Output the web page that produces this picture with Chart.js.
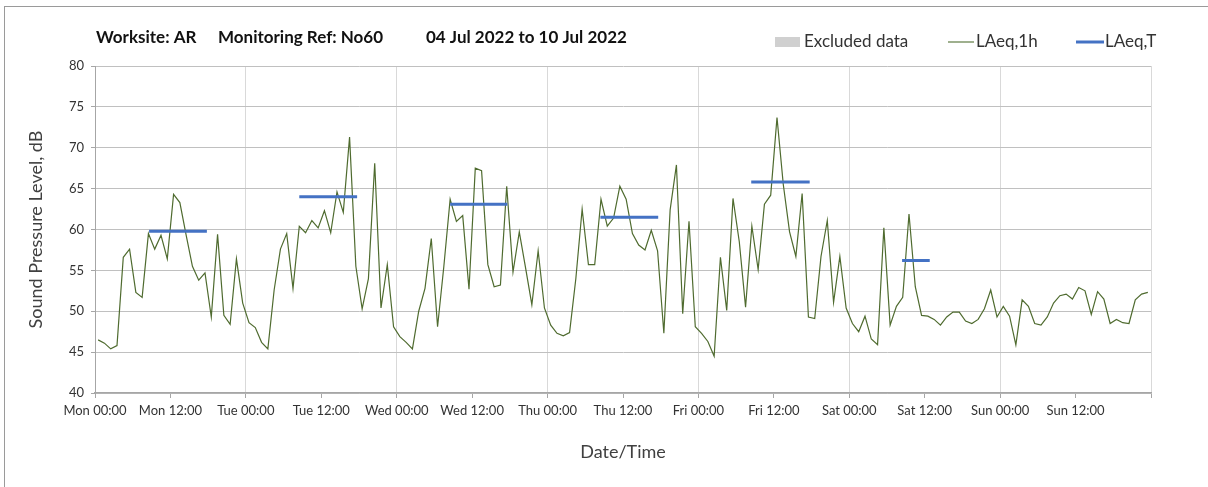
<!DOCTYPE html>
<html>
<head>
<meta charset="utf-8">
<script src="https://cdn.jsdelivr.net/npm/chart.js@4/dist/chart.umd.min.js"></script>
<style>
html,body{margin:0;padding:0;background:#fff;}
#wrap{position:relative;width:1208px;height:487px;overflow:hidden;background:#fff;}
#frame{position:absolute;left:4px;top:6px;width:1240px;height:520px;border:1px solid #9a9a9a;box-sizing:border-box;}
#c{position:absolute;left:0;top:0;}
</style>
</head>
<body>
<div id="wrap"><div id="frame"></div><canvas id="c" width="1208" height="487"></canvas></div>
<script>
// ---- Data ----
const titleParts = ['Worksite: AR', 'Monitoring Ref: No60', '04 Jul 2022 to 10 Jul 2022'];
const tickLabels = ['Mon 00:00','Mon 12:00','Tue 00:00','Tue 12:00','Wed 00:00','Wed 12:00',
                    'Thu 00:00','Thu 12:00','Fri 00:00','Fri 12:00','Sat 00:00','Sat 12:00',
                    'Sun 00:00','Sun 12:00'];
// hourly LAeq,1h values (one per hour, Mon 00:00 onward)
const laeq1hMon = [46.5,46.1,45.4,45.8,56.6,57.6,52.3,51.7,59.5,57.6,59.3,56.4,64.3,63.3,59.3,55.5,53.8,54.7,49.3,59.4,49.5,48.4,56.4,51.0];
const laeq1hTue = [48.6,48.0,46.2,45.4,52.6,57.6,59.5,52.8,60.4,59.6,61.1,60.2,62.3,59.6,64.6,62.1,71.3,55.5,50.3,54.0,68.1,50.4,55.7,48.1];
const laeq1hWed = [46.9,46.2,45.4,50.0,52.8,58.9,48.1,55.5,63.7,61.0,61.7,52.7,67.5,67.2,55.7,53.0,53.2,65.3,54.8,59.7,55.3,50.8,57.4,50.4];
const laeq1hThu = [48.3,47.3,47.0,47.4,54.0,62.5,55.7,55.7,63.7,60.4,61.4,65.3,63.7,59.5,58.1,57.5,59.9,57.4,47.3,62.4,67.9,49.7,61.0,48.1];
const laeq1hFri = [47.3,46.3,44.5,56.6,50.1,63.8,58.5,50.5,60.4,55.1,63.1,64.2,73.7,65.5,59.7,56.7,64.4,49.3,49.1,56.7,61.1,51.1,56.7,50.4];
const laeq1hSat = [48.5,47.5,49.4,46.6,45.9,60.2,48.3,50.6,51.7,61.9,53.0,49.5,49.4,49.0,48.3,49.3,49.9,49.9,48.8,48.5,49.0,50.3,52.6,49.3];
const laeq1hSun = [50.6,49.4,45.9,51.4,50.6,48.5,48.3,49.3,51.0,51.9,52.1,51.5,52.9,52.5,49.6,52.4,51.5,48.5,49.0,48.6,48.5,51.4,52.1,52.3];
// LAeq,T period values and their start/end (hours from Mon 00:00)
const laeqTValues = [59.8, 64.0, 63.1, 61.5, 65.8, 56.2];
const laeqTStart  = [8.6, 32.5, 56.5, 80.4, 104.4, 128.4];
const laeqTEnd    = [17.8, 41.7, 65.6, 89.6, 113.7, 132.8];

// ---- Build datasets ----
const allHourly = [].concat(laeq1hMon, laeq1hTue, laeq1hWed, laeq1hThu, laeq1hFri, laeq1hSat, laeq1hSun);
const hourlyPoints = allHourly.map((v, i) => ({x: i + 0.5, y: v}));
const periodPoints = [];
laeqTValues.forEach((v, k) => {
  periodPoints.push({x: laeqTStart[k], y: v});
  periodPoints.push({x: laeqTEnd[k], y: v});
  periodPoints.push({x: laeqTEnd[k], y: null});
});

const FONT = 'Lato, "Open Sans", sans-serif';

const headerPlugin = {
  id: 'header',
  afterDraw(chart) {
    const ctx = chart.ctx;
    ctx.save();
    ctx.textBaseline = 'middle';
    ctx.fillStyle = '#111';
    ctx.font = 'bold 17px ' + FONT;
    const tx = [96, 218, 426];
    titleParts.forEach((t, i) => ctx.fillText(t, tx[i], 38));
    // legend
    ctx.font = '17px ' + FONT;
    ctx.fillStyle = '#d0d0d0';
    ctx.fillRect(775, 37, 25, 10);
    ctx.fillStyle = '#333';
    ctx.fillText('Excluded data', 804, 42);
    ctx.strokeStyle = '#7f9668';
    ctx.lineWidth = 1.5;
    ctx.beginPath(); ctx.moveTo(948, 42); ctx.lineTo(974, 42); ctx.stroke();
    ctx.fillStyle = '#333';
    ctx.fillText('LAeq,1h', 976, 42);
    ctx.strokeStyle = '#4472c4';
    ctx.lineWidth = 3;
    ctx.beginPath(); ctx.moveTo(1076, 42); ctx.lineTo(1104, 42); ctx.stroke();
    ctx.fillText('LAeq,T', 1105, 42);
    ctx.restore();
  }
};

new Chart(document.getElementById('c'), {
  type: 'line',
  data: {
    datasets: [
      {
        label: 'LAeq,T',
        data: periodPoints,
        borderColor: '#4472c4',
        borderWidth: 3,
        pointRadius: 0,
        spanGaps: false,
        order: 0
      },
      {
        label: 'LAeq,1h',
        data: hourlyPoints,
        borderColor: '#4f6b2f',
        borderWidth: 1.2,
        pointRadius: 0,
        tension: 0,
        order: 1
      }
    ]
  },
  options: {
    responsive: false,
    animation: false,
    devicePixelRatio: 1,
    layout: {padding: {top: 66, right: 57, left: 0, bottom: 0}},
    plugins: {legend: {display: false}, title: {display: false}, tooltip: {enabled: false}},
    scales: {
      x: {
        type: 'linear',
        min: 0, max: 168,
        afterBuildTicks: s => { s.ticks = []; for (let k = 0; k <= tickLabels.length; k++) s.ticks.push({value: k * 12}); },
        ticks: {
          autoSkip: false, maxRotation: 0, minRotation: 0, padding: 5,
          color: '#333', font: {family: FONT, size: 13},
          callback: v => tickLabels[Math.round(v / 12)] || ''
        },
        grid: {
          color: c => (c.tick && c.tick.value % 24 === 0) ? '#d9d9d9' : 'rgba(0,0,0,0)',
          tickColor: '#a6a6a6', tickLength: 5, lineWidth: 1
        },
        border: {color: '#a6a6a6', width: 1.5},
        title: {display: true, text: 'Date/Time', color: '#404040', font: {family: FONT, size: 18}, padding: {top: 0, bottom: 24}},
        afterFit: s => { s.height = 94; }
      },
      y: {
        min: 40, max: 80,
        ticks: {stepSize: 5, padding: 7, color: '#333', font: {family: FONT, size: 13}},
        grid: {color: '#c0c0c0', tickColor: '#a6a6a6', tickLength: 4, lineWidth: 1},
        border: {color: '#a6a6a6', width: 1},
        title: {display: true, text: 'Sound Pressure Level, dB', color: '#404040', font: {family: FONT, size: 18}, padding: {top: 25, bottom: 0}},
        afterFit: s => { s.width = 95; }
      }
    }
  },
  plugins: [headerPlugin]
});
</script>
</body>
</html>
